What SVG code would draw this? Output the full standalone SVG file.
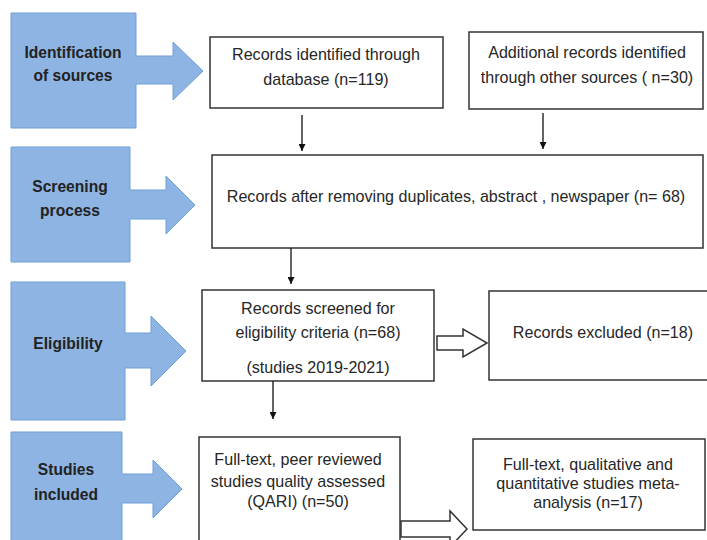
<svg xmlns="http://www.w3.org/2000/svg" width="707" height="540" viewBox="0 0 707 540">
<style>
.stage{fill:#8eb4e3;stroke:#6f9fd8;stroke-width:1}
.box{fill:#ffffff;stroke:#333333;stroke-width:1.5}
.hollow{fill:#ffffff;stroke:#333333;stroke-width:1.5}
.lbl{font-family:"Liberation Sans",Arial,sans-serif;font-weight:bold;font-size:15.6px;fill:#222222;text-anchor:middle}
.txt{font-family:"Liberation Sans",Arial,sans-serif;font-size:16.1px;fill:#262626;text-anchor:middle}
.conn{stroke:#111111;stroke-width:1.3;fill:none}
</style>
<defs>
<marker id="ah" viewBox="0 0 10 10" refX="10" refY="5" markerWidth="7" markerHeight="7" markerUnits="userSpaceOnUse" orient="auto">
<path d="M0,0 L10,5 L0,10 Z" fill="#111111"/>
</marker>
</defs>
<rect width="707" height="540" fill="#ffffff"/>

<g id="stage-identification">
<path class="stage" d="M11,13 H136 V56 H173 V42 L203,71 L173,100 V84 H136 V128 H11 Z"/>
<text class="lbl" x="73" y="58">Identification</text>
<text class="lbl" x="73" y="81">of sources</text>
</g>
<g id="stage-screening">
<path class="stage" d="M11,147 H130 V190 H166 V176 L195,205 L166,234 V219 H130 V262 H11 Z"/>
<text class="lbl" x="70" y="192">Screening</text>
<text class="lbl" x="70" y="216">process</text>
</g>
<g id="stage-eligibility">
<path class="stage" d="M11,282 H125 V333 H151 V316 L186,351 L151,386 V368 H125 V420 H11 Z"/>
<text class="lbl" x="68" y="349">Eligibility</text>
</g>
<g id="stage-included">
<path class="stage" d="M11,432 H122 V474 H153 V460 L182,489 L153,518 V503 H122 V548 H11 Z"/>
<text class="lbl" x="66" y="475">Studies</text>
<text class="lbl" x="66" y="500">included</text>
</g>

<g id="box-database">
<rect class="box" x="210" y="37" width="233" height="71"/>
<text class="txt" x="326" y="60">Records identified through</text>
<text class="txt" x="326" y="85">database (n=119)</text>
</g>
<g id="box-other">
<rect class="box" x="469" y="32" width="234" height="77"/>
<text class="txt" x="587" y="58">Additional records identified</text>
<text class="txt" x="587" y="83">through other sources ( n=30)</text>
</g>
<g id="box-dedup">
<rect class="box" x="212" y="155" width="491" height="93"/>
<text class="txt" x="456" y="202">Records after removing duplicates, abstract , newspaper (n= 68)</text>
</g>
<g id="box-screened">
<rect class="box" x="202" y="290" width="232" height="91"/>
<text class="txt" x="318" y="314">Records screened for</text>
<text class="txt" x="318" y="338">eligibility criteria (n=68)</text>
<text class="txt" x="318" y="373">(studies 2019-2021)</text>
</g>
<g id="box-excluded">
<rect class="box" x="489" y="291" width="222" height="89"/>
<text class="txt" x="603" y="338">Records excluded (n=18)</text>
</g>
<g id="box-quality">
<rect class="box" x="199" y="437" width="201" height="106"/>
<text class="txt" x="298" y="465">Full-text, peer reviewed</text>
<text class="txt" x="298" y="487">studies quality assessed</text>
<text class="txt" x="298" y="507">(QARI) (n=50)</text>
</g>
<g id="box-meta">
<rect class="box" x="473" y="439" width="232" height="91"/>
<text class="txt" x="588" y="470">Full-text, qualitative and</text>
<text class="txt" x="588" y="489">quantitative studies meta-</text>
<text class="txt" x="588" y="508">analysis (n=17)</text>
</g>

<g id="connectors">
<line class="conn" x1="302" y1="115" x2="302" y2="151" marker-end="url(#ah)"/>
<line class="conn" x1="543" y1="113" x2="543" y2="149" marker-end="url(#ah)"/>
<line class="conn" x1="291" y1="248" x2="291" y2="284" marker-end="url(#ah)"/>
<line class="conn" x1="273" y1="381" x2="273" y2="419" marker-end="url(#ah)"/>
<path class="hollow" d="M437,336 H463 V329 L487,343 L463,357 V350 H437 Z"/>
<path class="hollow" d="M401,521 H450 V511 L467,529 L450,547 V537 H401 Z"/>
</g>
</svg>
